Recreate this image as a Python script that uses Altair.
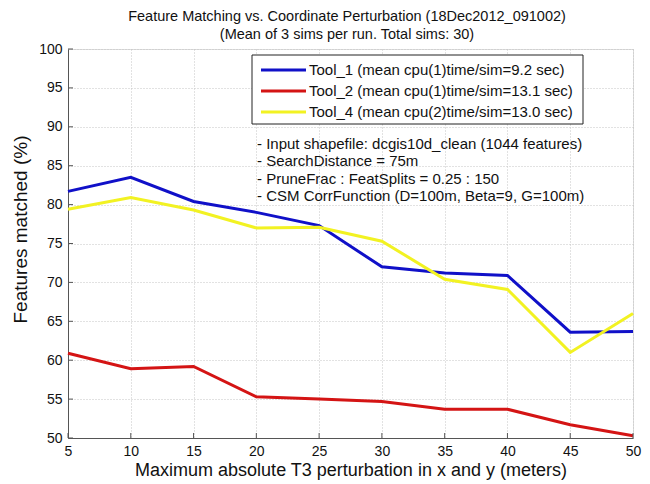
import altair as alt
import pandas as pd

x_vals = [5, 10, 15, 20, 25, 30, 35, 40, 45, 50]
y_ticks = [50, 55, 60, 65, 70, 75, 80, 85, 90, 95, 100]
tool1 = [81.7, 83.5, 80.4, 79.0, 77.3, 72.0, 71.2, 70.9, 63.6, 63.7]
tool2 = [60.9, 58.9, 59.2, 55.3, 55.0, 54.7, 53.7, 53.7, 51.7, 50.3]
tool4 = [79.4, 80.9, 79.3, 77.0, 77.1, 75.3, 70.4, 69.1, 61.0, 66.0]
series_names = [
    "Tool_1 (mean cpu(1)time/sim=9.2 sec)",
    "Tool_2 (mean cpu(1)time/sim=13.1 sec)",
    "Tool_4 (mean cpu(2)time/sim=13.0 sec)",
]
series_colors = ["#1010c8", "#d41414", "#f2f222"]
notes = [
    "- Input shapefile: dcgis10d_clean (1044 features)",
    "- SearchDistance = 75m",
    "- PruneFrac : FeatSplits = 0.25 : 150",
    "- CSM CorrFunction (D=100m, Beta=9, G=100m)",
]
title_lines = [
    "Feature Matching vs. Coordinate Perturbation (18Dec2012_091002)",
    "(Mean of 3 sims per run. Total sims: 30)",
]

rows = []
for name, vals in zip(series_names, [tool1, tool2, tool4]):
    for x, v in zip(x_vals, vals):
        rows.append({"x": x, "y": v, "series": name})
df = pd.DataFrame(rows)

FONT = "Liberation Sans"
TXT = "#111111"

xscale = alt.Scale(domain=[5, 50], nice=False)
yscale = alt.Scale(domain=[50, 100], nice=False)

x_axis = alt.Axis(values=x_vals, title="Maximum absolute T3 perturbation in x and y (meters)",
                  grid=True, gridDash=[1, 2], gridColor="#c4c4c4",
                  domainColor="#555555", tickSize=0, labelPadding=6,
                  labelFontSize=14, labelColor=TXT, labelFont=FONT,
                  labelOverlap=False,
                  titleFont=FONT, titleFontSize=18, titleFontWeight="normal",
                  titleColor=TXT, titlePadding=3, labelFlush=False)
y_axis = alt.Axis(values=y_ticks, title="Features matched (%)",
                  grid=True, gridDash=[1, 2], gridColor="#c4c4c4",
                  domainColor="#555555", tickSize=0, labelPadding=6,
                  labelFontSize=14, labelColor=TXT, labelFont=FONT,
                  labelOverlap=False,
                  titleFont=FONT, titleFontSize=19, titleFontWeight="normal",
                  titleColor=TXT, titlePadding=8, titleY=180)

lines = alt.Chart(df).mark_line(strokeWidth=3).encode(
    x=alt.X("x:Q", scale=xscale, axis=x_axis),
    y=alt.Y("y:Q", scale=yscale, axis=y_axis),
    color=alt.Color("series:N", scale=alt.Scale(domain=series_names, range=series_colors),
                    legend=None),
)

# inward ticks (MATLAB style)
xt = alt.Chart(pd.DataFrame({"x": x_vals})).mark_rule(color="#555555", strokeWidth=1).encode(
    x=alt.X("x:Q", scale=xscale, axis=x_axis), y=alt.value(389), y2=alt.value(384))
yt = alt.Chart(pd.DataFrame({"y": y_ticks})).mark_rule(color="#555555", strokeWidth=1).encode(
    y=alt.Y("y:Q", scale=yscale, axis=y_axis), x=alt.value(0), x2=alt.value(5))

one = pd.DataFrame({"t": [0]})

# legend box
leg_box = alt.Chart(one).mark_rect(
    fill="white", stroke="#222222", strokeWidth=1).encode(
    x=alt.value(184), x2=alt.value(515), y=alt.value(6), y2=alt.value(75))
leg_layers = [leg_box]
for i, (name, col) in enumerate(zip(series_names, series_colors)):
    yy = 21 + i * 21
    leg_layers.append(alt.Chart(one).mark_rule(color=col, strokeWidth=3).encode(
        x=alt.value(193), x2=alt.value(238), y=alt.value(yy)))
    leg_layers.append(alt.Chart(one).mark_text(
        align="left", baseline="middle", font=FONT, fontSize=15, color=TXT).encode(
        x=alt.value(241), y=alt.value(yy), text=alt.value(name)))

notes_text = alt.Chart(one).mark_text(
    align="left", baseline="middle", font=FONT, fontSize=15, color=TXT, lineHeight=17.3
).encode(x=alt.value(189), y=alt.value(95), text=alt.value(notes))

title_text = alt.Chart(one).mark_text(
    align="center", baseline="middle", font=FONT, fontSize=14.5, color=TXT, lineHeight=18
).encode(x=alt.value(279), y=alt.value(-32), text=alt.value(title_lines))

chart = alt.layer(lines, xt, yt, *leg_layers, notes_text, title_text).properties(
    width=565, height=389,
    autosize=alt.AutoSizeParams(type="none"),
    padding={"left": 68, "top": 49, "right": 17, "bottom": 46},
).configure_view(stroke=None).configure(background="white")

chart.save("out.html", embed_options={"renderer": "svg", "actions": False})
